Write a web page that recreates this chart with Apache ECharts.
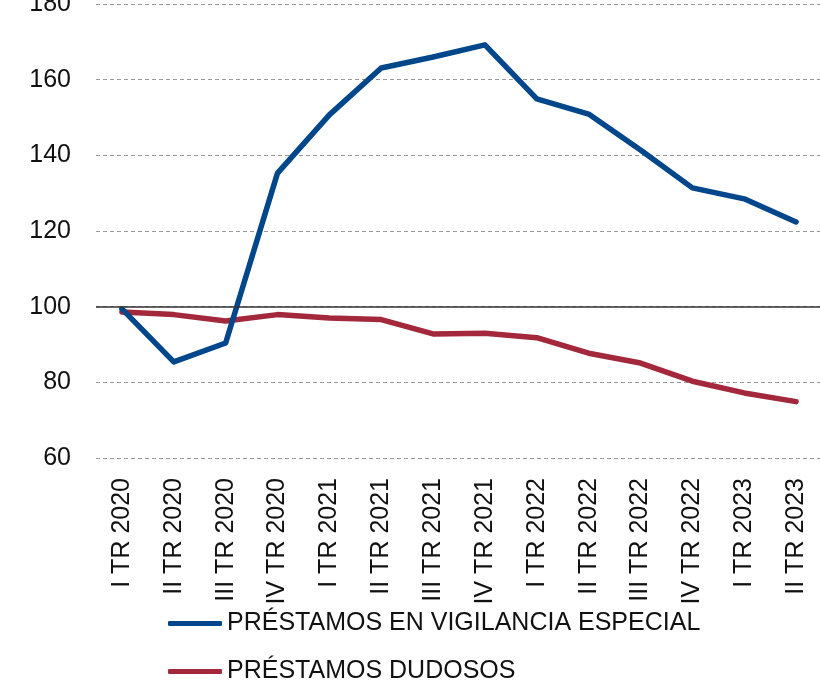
<!DOCTYPE html>
<html>
<head>
<meta charset="utf-8">
<script src="https://cdn.jsdelivr.net/npm/echarts@6/dist/echarts.min.js"></script>
<style>
  html, body { margin: 0; padding: 0; background: #fff; }
  #main { width: 820px; height: 684px; }
</style>
</head>
<body>
<div id="main"></div>
<script>
// trimestres
var quarters = [
  "I TR 2020", "II TR 2020", "III TR 2020", "IV TR 2020",
  "I TR 2021", "II TR 2021", "III TR 2021", "IV TR 2021",
  "I TR 2022", "II TR 2022", "III TR 2022", "IV TR 2022",
  "I TR 2023", "II TR 2023"
];
// índice, base 100
var vigilancia = [99.4, 85.4, 90.4, 135.3, 150.7, 163.1, 166.0, 169.2, 154.9, 150.9, 141.4, 131.4, 128.5, 122.4];
var dudosos = [98.6, 97.9, 96.2, 97.9, 97.0, 96.6, 92.8, 93.0, 91.8, 87.7, 85.1, 80.3, 77.2, 74.9];
var yTicks = { min: 60, max: 180, step: 20 };
var baseLine = 100;

var font = "'Liberation Sans', Arial, Helvetica, sans-serif";
var chart = echarts.init(document.getElementById("main"));

var option = {
  animation: false,
  backgroundColor: "#fff",
  textStyle: { fontFamily: font },
  grid: { left: 96, right: -2, top: 4, bottom: 226, containLabel: false, outerBoundsMode: "none" },
  legend: {
    orient: "vertical",
    left: 168,
    top: 611,
    padding: 0,
    itemWidth: 54,
    itemHeight: 5,
    itemGap: 23,
    icon: "roundRect",
    textStyle: { fontSize: 25, color: "#111", fontFamily: font },
    data: ["PRÉSTAMOS EN VIGILANCIA ESPECIAL", "PRÉSTAMOS DUDOSOS"]
  },
  xAxis: {
    type: "category",
    data: quarters,
    boundaryGap: true,
    axisLine: { show: false },
    axisTick: { show: false },
    axisLabel: {
      rotate: 90,
      margin: 20,
      interval: 0,
      fontSize: 25,
      color: "#111",
      fontFamily: font
    }
  },
  yAxis: {
    type: "value",
    min: yTicks.min,
    max: yTicks.max,
    interval: yTicks.step,
    axisLine: { show: false },
    axisTick: { show: false },
    axisLabel: { fontSize: 25, color: "#111", margin: 25, fontFamily: font },
    splitLine: { lineStyle: { color: "#999", type: [4, 3], width: 1 } }
  },
  series: [
    {
      name: "base",
      type: "line",
      data: [],
      z: 1,
      markLine: {
        silent: true,
        symbol: "none",
        label: { show: false },
        lineStyle: { color: "#333", type: "solid", width: 1.5 },
        data: [{ yAxis: baseLine }]
      }
    },
    {
      name: "PRÉSTAMOS EN VIGILANCIA ESPECIAL",
      type: "line",
      data: vigilancia,
      symbol: "none",
      z: 3,
      lineStyle: { color: "#00468B", width: 5.5, cap: "round", join: "round" },
      itemStyle: { color: "#00468B" }
    },
    {
      name: "PRÉSTAMOS DUDOSOS",
      type: "line",
      data: dudosos,
      symbol: "none",
      z: 2,
      lineStyle: { color: "#A3283B", width: 5.5, cap: "round", join: "round" },
      itemStyle: { color: "#A3283B" }
    }
  ]
};

chart.setOption(option);
</script>
</body>
</html>
